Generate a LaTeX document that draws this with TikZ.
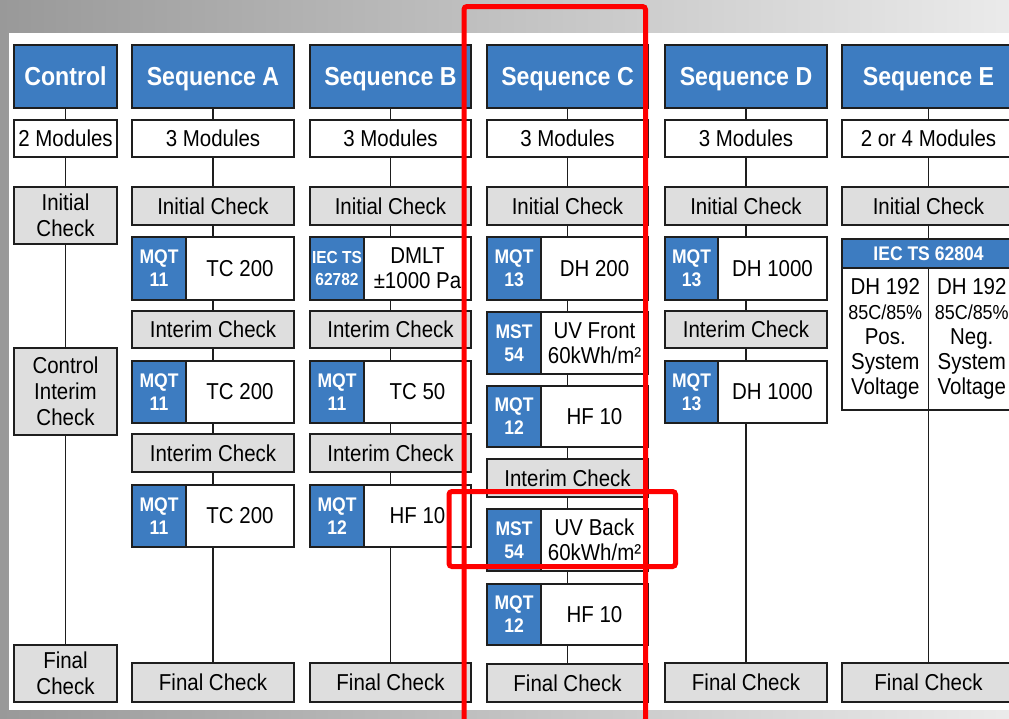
\documentclass[tikz,border=0pt]{standalone}
\usepackage{fontspec}
\setmainfont{Liberation Sans}[FakeStretch=0.89]
\pgfdeclarelayer{bgl}
\pgfdeclarelayer{lnl}
\pgfsetlayers{bgl,lnl,main}
\definecolor{hblue}{HTML}{3D7CC1}
\definecolor{cgray}{HTML}{DEDEDE}
\definecolor{edge}{HTML}{1E1E1E}
\tikzset{
  base/.style={draw=edge, line width=1.8pt, inner sep=0pt, outer sep=0pt, rectangle, align=center},
  hdr/.style={base, fill=hblue, text=white, font=\fontsize{26}{30}\selectfont\bfseries, text height=18.6pt, text depth=0pt},
  modbox/.style={base, fill=white, font=\fontsize{23}{25}\selectfont},
  chk/.style={base, fill=cgray, font=\fontsize{23}{26}\selectfont},
  code/.style={base, fill=hblue, text=white, font=\fontsize{19.7}{23}\selectfont\bfseries},
  codesmall/.style={base, fill=hblue, text=white, font=\fontsize{17.4}{22}\selectfont\bfseries},
  test/.style={base, fill=white, font=\fontsize{23}{25}\selectfont},
  subhdr/.style={base, fill=hblue, text=white, font=\fontsize{19.7}{21}\selectfont\bfseries},
  link/.style={draw=edge, line width=1.8pt},
  redframe/.style={draw=red, line width=5pt, rounded corners=3pt}
}
\newcommand\mybox[7]{\node[#1, minimum width={(#5)-(#3)}, minimum height={(#6)-(#4)}] (#2) at ({((#3)+(#5))/2},{((#4)+(#6))/2}) {#7};}
\begin{document}
\begin{tikzpicture}[x=1pt,y=-1pt]
\useasboundingbox (0,0) rectangle (1009,718);
\begin{pgfonlayer}{bgl}
  \shade[left color=black!40, right color=black!8] (0,0) rectangle (1009,718);
  \fill[white] (9,33) rectangle (1009,710);
\end{pgfonlayer}

% Control
\mybox{hdr}{h0}{14}{45}{117}{108}{Control}
\mybox{modbox}{m0}{14}{120}{117}{157}{2 Modules}
\mybox{chk}{i0}{14}{187}{117}{244}{Initial\\Check}
\mybox{chk}{c0}{14}{348}{117}{435}{Control\\Interim\\Check}
\mybox{chk}{f0}{14}{645}{117}{702}{Final\\Check}

% Sequence A
\mybox{hdr}{hA}{132}{45}{294}{108}{Sequence A}
\mybox{modbox}{mA}{132}{120}{294}{157}{3 Modules}
\mybox{chk}{iA}{132}{187}{294}{225}{Initial Check}
\mybox{code}{a1c}{132}{237}{186}{300}{MQT\\11}
\mybox{test}{a1t}{186}{237}{294}{300}{TC 200}
\mybox{chk}{a2}{132}{311}{294}{348}{Interim Check}
\mybox{code}{a3c}{132}{361}{186}{423}{MQT\\11}
\mybox{test}{a3t}{186}{361}{294}{423}{TC 200}
\mybox{chk}{a4}{132}{434}{294}{472}{Interim Check}
\mybox{code}{a5c}{132}{485}{186}{547}{MQT\\11}
\mybox{test}{a5t}{186}{485}{294}{547}{TC 200}
\mybox{chk}{fA}{132}{663}{294}{702}{Final Check}

% Sequence B
\mybox{hdr}{hB}{310}{45}{471}{108}{Sequence B}
\mybox{modbox}{mB}{310}{120}{471}{157}{3 Modules}
\mybox{chk}{iB}{310}{187}{471}{225}{Initial Check}
\mybox{codesmall}{b1c}{310}{237}{364}{300}{IEC TS\\62782}
\mybox{test}{b1t}{364}{237}{471}{300}{DMLT\\±1000 Pa}
\mybox{chk}{b2}{310}{311}{471}{348}{Interim Check}
\mybox{code}{b3c}{310}{361}{364}{423}{MQT\\11}
\mybox{test}{b3t}{364}{361}{471}{423}{TC 50}
\mybox{chk}{b4}{310}{434}{471}{472}{Interim Check}
\mybox{code}{b5c}{310}{485}{364}{547}{MQT\\12}
\mybox{test}{b5t}{364}{485}{471}{547}{HF 10}
\mybox{chk}{fB}{310}{663}{471}{702}{Final Check}

% Sequence C
\mybox{hdr}{hC}{487}{45}{648}{108}{Sequence C}
\mybox{modbox}{mC}{487}{120}{648}{157}{3 Modules}
\mybox{chk}{iC}{487}{187}{648}{225}{Initial Check}
\mybox{code}{c1c}{487}{237}{541}{300}{MQT\\13}
\mybox{test}{c1t}{541}{237}{648}{300}{DH 200}
\mybox{code}{c2c}{487}{312}{541}{374}{MST\\54}
\mybox{test}{c2t}{541}{312}{648}{374}{UV Front\\60kWh/m²}
\mybox{code}{c3c}{487}{386}{541}{447}{MQT\\12}
\mybox{test}{c3t}{541}{386}{648}{447}{HF 10}
\mybox{chk}{c4}{487}{459}{648}{497}{Interim Check}
\mybox{code}{c5c}{487}{509}{541}{571}{MST\\54}
\mybox{test}{c5t}{541}{509}{648}{571}{UV Back\\60kWh/m²}
\mybox{code}{c6c}{487}{584}{541}{645}{MQT\\12}
\mybox{test}{c6t}{541}{584}{648}{645}{HF 10}
\mybox{chk}{fC}{487}{664}{648}{702}{Final Check}

% Sequence D
\mybox{hdr}{hD}{665}{45}{827}{108}{Sequence D}
\mybox{modbox}{mD}{665}{120}{827}{157}{3 Modules}
\mybox{chk}{iD}{665}{187}{827}{225}{Initial Check}
\mybox{code}{d1c}{665}{237}{718}{300}{MQT\\13}
\mybox{test}{d1t}{718}{237}{827}{300}{DH 1000}
\mybox{chk}{d2}{665}{311}{827}{348}{Interim Check}
\mybox{code}{d3c}{665}{361}{718}{423}{MQT\\13}
\mybox{test}{d3t}{718}{361}{827}{423}{DH 1000}
\mybox{chk}{fD}{665}{663}{827}{702}{Final Check}

% Sequence E
\mybox{hdr}{hE}{842}{45}{1015}{108}{Sequence E}
\mybox{modbox}{mE}{842}{120}{1015}{157}{2 or 4 Modules}
\mybox{chk}{iE}{842}{187}{1015}{225}{Initial Check}
\mybox{subhdr}{e1}{842}{239}{1015}{268}{IEC TS 62804}
\mybox{test}{e2}{842}{268}{928.5}{410}{DH 192\\{\fontsize{20.2}{25}\selectfont 85C/85\%}\\Pos.\\System\\Voltage}
\mybox{test}{e3}{928.5}{268}{1015}{410}{DH 192\\{\fontsize{20.2}{25}\selectfont 85C/85\%}\\Neg.\\System\\Voltage}
\mybox{chk}{fE}{842}{663}{1015}{702}{Final Check}

\begin{pgfonlayer}{lnl}
  \draw[link] (h0.south) -- (f0.north);
  \draw[link] (hA.south) -- (fA.north);
  \draw[link] (hB.south) -- (fB.north);
  \draw[link] (hC.south) -- (fC.north);
  \draw[link] (hD.south) -- (fD.north);
  \draw[link] (hE.south) -- (fE.north);
\end{pgfonlayer}

% highlight frames
\draw[redframe] (464,6.5) rectangle (645.5,722);
\draw[redframe] (449,491.5) rectangle (675.5,566.5);
\end{tikzpicture}
\end{document}
